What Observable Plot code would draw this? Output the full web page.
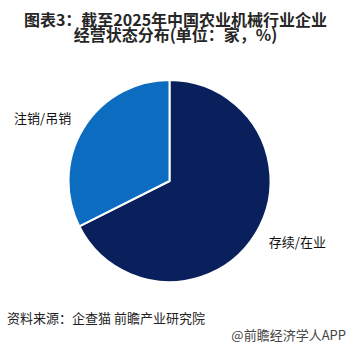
<!DOCTYPE html>
<html>
<head>
<meta charset="utf-8">
<script src="https://cdn.jsdelivr.net/npm/d3@7"></script>
<script src="https://cdn.jsdelivr.net/npm/@observablehq/plot@0.6"></script>
<style>
  html, body { margin: 0; padding: 0; background: #fff; }
  #wrap { position: relative; width: 351px; height: 351px; overflow: hidden; font-family: "Noto Sans CJK SC", sans-serif; }
  .title { position: absolute; left: 0; width: 351px; height: 15px; text-align: center; font-weight: bold; font-size: 16px; line-height: 15px; color: #262626; white-space: nowrap; }
  #t1 { top: 12px; }
  #t2 { top: 27px; }
  #chart { position: absolute; left: 0; top: 0; }
  #source { position: absolute; left: 7px; top: 310px; font-size: 13px; line-height: 16px; color: #222; }
  #brand { position: absolute; right: 5px; top: 327px; font-size: 13px; line-height: 16px; color: #444; }
</style>
</head>
<body>
<div id="wrap">
  <div id="chart"></div>
  <div class="title" id="t1">图表3：截至2025年中国农业机械行业企业</div>
  <div class="title" id="t2">经营状态分布(单位：家，%)</div>
  <div id="source">资料来源：企查猫 前瞻产业研究院</div>
  <div id="brand">@前瞻经济学人APP</div>
</div>
<script>
const categories = ["存续/在业", "注销/吊销"];
const shares = [67.6, 32.4];
const colors = ["#0a205c", "#0b6cc0"];

const data = categories.map((c, i) => ({category: c, share: shares[i], color: colors[i]}));
const arcs = d3.pie().sort(null).value(d => d.share)(data);
const labelR = 1.15;
const labels = arcs.map(a => {
  const m = (a.startAngle + a.endAngle) / 2;
  return {text: a.data.category, x: labelR * Math.sin(m), y: labelR * Math.cos(m), right: Math.sin(m) >= 0};
});

function pieSlices(arcList) {
  return (index, scales) => {
    const cx = scales.x(0), cy = scales.y(0), r = scales.x(1) - scales.x(0);
    const g = d3.create("svg:g").attr("transform", `translate(${cx},${cy})`);
    g.selectAll("path").data(arcList).join("path")
      .attr("d", d3.arc().innerRadius(0).outerRadius(r))
      .attr("fill", d => d.data.color)
      .attr("stroke", "#fff")
      .attr("stroke-width", 2)
      .attr("stroke-linejoin", "round");
    return g.node();
  };
}

const R = 101, CX = 169.5, CY = 181, W = 351, H = 351;
const plot = Plot.plot({
  width: W, height: H,
  margin: 0,
  x: {domain: [-CX / R, (W - CX) / R], axis: null},
  y: {domain: [-(H - CY) / R, CY / R], axis: null},
  style: {fontFamily: "'Noto Sans CJK SC', sans-serif", background: "transparent"},
  marks: [
    pieSlices(arcs),
    Plot.text(labels.filter(d => d.right), {x: "x", y: "y", text: "text", textAnchor: "start", fontSize: 13, fill: "#111"}),
    Plot.text(labels.filter(d => !d.right), {x: "x", y: "y", text: "text", textAnchor: "end", dy: -2, fontSize: 13, fill: "#111"})
  ]
});
document.getElementById("chart").appendChild(plot);
</script>
</body>
</html>
